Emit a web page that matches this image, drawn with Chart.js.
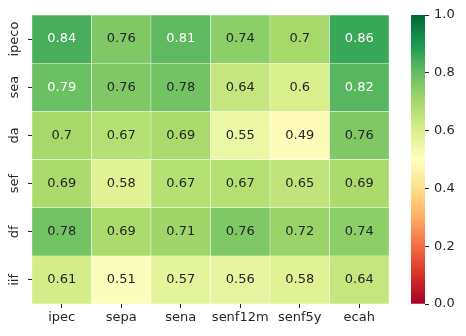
<!DOCTYPE html>
<html>
<head>
<meta charset="utf-8">
<script src="https://cdn.jsdelivr.net/npm/chart.js@4.4.0/dist/chart.umd.min.js"></script>
<style>
    body { margin: 0; background: #fff; }
    #wrap { position: relative; width: 466px; height: 336px; }
    canvas { position: absolute; top: 0; }
    #heat { left: 0; }
    #cbar { left: 400px; }
</style>
</head>
<body>
<div id="wrap">
    <canvas id="heat" width="400" height="336"></canvas>
    <canvas id="cbar" width="66" height="336"></canvas>
</div>
<script>
const columns = ["ipec", "sepa", "sena", "senf12m", "senf5y", "ecah"];
const rows = ["ipeco", "sea", "da", "sef", "df", "iif"];
const values = [
    [0.84, 0.76, 0.81, 0.74, 0.7, 0.86],
    [0.79, 0.76, 0.78, 0.64, 0.6, 0.82],
    [0.7, 0.67, 0.69, 0.55, 0.49, 0.76],
    [0.69, 0.58, 0.67, 0.67, 0.65, 0.69],
    [0.78, 0.69, 0.71, 0.76, 0.72, 0.74],
    [0.61, 0.51, 0.57, 0.56, 0.58, 0.64],
];
const cbarTicks = [0, 0.2, 0.4, 0.6, 0.8, 1.0];

// RdYlGn stops
const rdylgn = ["#a50026", "#d73027", "#f46d43", "#fdae61", "#fee08b", "#ffffbf",
    "#d9ef8b", "#a6d96a", "#66bd63", "#1a9850", "#006837"];

function hexToRgb(h) {
    return [parseInt(h.slice(1, 3), 16), parseInt(h.slice(3, 5), 16), parseInt(h.slice(5, 7), 16)];
}

function cmap(v) {
    v = Math.max(0, Math.min(1, v));
    const pos = v * (rdylgn.length - 1);
    const i = Math.min(Math.floor(pos), rdylgn.length - 2);
    const t = pos - i;
    const a = hexToRgb(rdylgn[i]);
    const b = hexToRgb(rdylgn[i + 1]);
    const c = a.map((x, k) => Math.round(x + (b[k] - x) * t));
    return "rgb(" + c.join(",") + ")";
}

const TEXT = "#262626";
Chart.defaults.font.family = "DejaVu Sans";
Chart.defaults.font.size = 13;
Chart.defaults.color = TEXT;

const datasets = rows.map((name, r) => ({
    label: name,
    data: columns.map(() => [r, r + 1]),
    backgroundColor: values[r].map((v) => cmap(v)),
    borderColor: "#ffffff",
    borderWidth: 0.5,
    borderSkipped: false,
    grouped: false,
    barPercentage: 1,
    categoryPercentage: 1,
}));

const cellText = {
    id: "cellText",
    afterDatasetsDraw(chart) {
        const ctx = chart.ctx;
        ctx.save();
        ctx.font = "13px 'DejaVu Sans'";
        ctx.textAlign = "center";
        ctx.textBaseline = "middle";
        chart.data.datasets.forEach((ds, r) => {
            chart.getDatasetMeta(r).data.forEach((el, c) => {
                const v = values[r][c];
                const p = el.getCenterPoint();
                ctx.fillStyle = v > 0.785 ? "#ffffff" : TEXT;
                ctx.fillText(String(v), p.x, p.y);
            });
        });
        // y tick labels, rotated like the original
        const y = chart.scales.y;
        ctx.fillStyle = TEXT;
        rows.forEach((name, i) => {
            ctx.save();
            ctx.translate(15, y.getPixelForValue(i + 0.5));
            ctx.rotate(-Math.PI / 2);
            ctx.fillText(name, 0, 0);
            ctx.restore();
        });
        ctx.restore();
    },
};

new Chart(document.getElementById("heat"), {
    type: "bar",
    data: { labels: columns, datasets: datasets },
    options: {
        responsive: false,
        animation: false,
        devicePixelRatio: 1,
        layout: { padding: { left: 0, top: 15, right: 11, bottom: 0 } },
        plugins: { legend: { display: false }, tooltip: { enabled: false } },
        scales: {
            x: {
                grid: { drawOnChartArea: false, drawTicks: true, tickLength: 4, color: TEXT, offset: false },
                border: { display: false },
                ticks: { font: { family: "DejaVu Sans", size: 13 }, padding: 2, color: TEXT, maxRotation: 0, minRotation: 0, autoSkip: false },
                afterFit(scale) { scale.height = 32; },
            },
            y: {
                min: 0,
                max: 6,
                reverse: true,
                grid: { drawOnChartArea: false, drawTicks: true, tickLength: 4, color: TEXT },
                border: { display: false },
                ticks: { display: false },
                afterBuildTicks(scale) {
                    scale.ticks = rows.map((_, i) => ({ value: i + 0.5 }));
                },
                afterFit(scale) { scale.width = 32; },
            },
        },
    },
    plugins: [cellText],
});

// colorbar labels drawn at the scale's tick positions
const cbarLabels = {
    id: "cbarLabels",
    afterDraw(chart) {
        const ctx = chart.ctx;
        const y = chart.scales.y;
        ctx.save();
        ctx.font = "13px 'DejaVu Sans'";
        ctx.fillStyle = TEXT;
        ctx.textAlign = "left";
        ctx.textBaseline = "middle";
        cbarTicks.forEach((v) => {
            ctx.fillText(v.toFixed(1), chart.chartArea.right + 9, y.getPixelForValue(v));
        });
        ctx.restore();
    },
};

new Chart(document.getElementById("cbar"), {
    type: "bar",
    data: {
        labels: ["cbar"],
        datasets: [{
            data: [[0, 1]],
            backgroundColor(context) {
                const area = context.chart.chartArea;
                if (!area) return null;
                const g = context.chart.ctx.createLinearGradient(0, area.bottom, 0, area.top);
                for (let i = 0; i <= 50; i++) {
                    g.addColorStop(i / 50, cmap(i / 50));
                }
                return g;
            },
            borderWidth: 0,
            barPercentage: 1,
            categoryPercentage: 1,
        }],
    },
    options: {
        responsive: false,
        animation: false,
        devicePixelRatio: 1,
        layout: { padding: { left: 11, top: 15, right: 0, bottom: 32 } },
        plugins: { legend: { display: false }, tooltip: { enabled: false } },
        scales: {
            x: { display: false },
            y: {
                position: "right",
                min: 0,
                max: 1,
                grid: { drawOnChartArea: false, drawTicks: true, tickLength: 4, color: TEXT },
                border: { display: false },
                ticks: { display: false },
                afterBuildTicks(scale) {
                    scale.ticks = cbarTicks.map((v) => ({ value: v }));
                },
                afterFit(scale) { scale.width = 41; },
            },
        },
    },
    plugins: [cbarLabels],
});
</script>
</body>
</html>
